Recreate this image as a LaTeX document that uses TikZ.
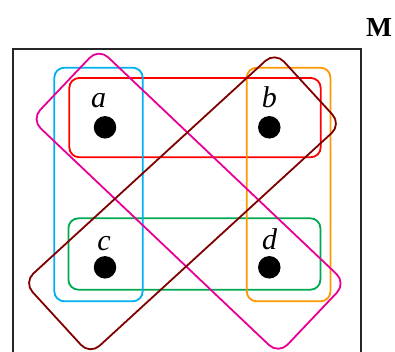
\documentclass[tikz,border=0pt]{standalone}
\usepackage{fontspec}
\setmainfont{Liberation Serif}
\definecolor{skyblue}{RGB}{0,176,240}
\definecolor{setgreen}{RGB}{0,168,80}
\definecolor{setorange}{RGB}{255,152,0}
\definecolor{setpink}{RGB}{232,0,150}
\definecolor{setmaroon}{RGB}{128,0,0}

\begin{document}
\begin{tikzpicture}[x=1pt,y=-1pt,
  elem/.style={circle,fill=black,inner sep=0pt,minimum size=22.5pt},
  lbl/.style={anchor=base,inner sep=0pt,font=\fontsize{30}{36}\selectfont\itshape},
  setbox/.style={draw=#1,line width=1.8pt,rounded corners=10pt,inner sep=0pt},
  diagbox/.style={setbox=#1,rounded corners=13pt,minimum width=341pt,minimum height=98pt}]
  \useasboundingbox (0,0) rectangle (395,351);

  % universe
  \draw[line width=2.2pt,black!85] (13.3,400) |- (360.7,49.3) -- (360.7,400);
  \node[anchor=base,inner sep=0pt,font=\fontsize{27.5}{33}\selectfont\bfseries] (M) at (379,36) {M};

  % elements
  \node[elem] (a) at (105,127.3) {};
  \node[elem] (b) at (269.3,127.3) {};
  \node[elem] (c) at (105,267.3) {};
  \node[elem] (d) at (269.3,267.3) {};
  \node[lbl] (la) at (98.7,107.3) {a};
  \node[lbl] (lb) at (269.3,107.3) {b};
  \node[lbl] (lc) at (104,250) {c};
  \node[lbl] (ld) at (269.5,249.5) {d};

  % hyperedges
  \node[setbox=red,minimum width=251.4pt,minimum height=79.3pt] (ab) at (195,117.6) {};
  \node[setbox=setgreen,minimum width=252pt,minimum height=71.4pt] (cd) at (194.4,254) {};
  \node[setbox=skyblue,minimum width=88.4pt,minimum height=233.6pt] (ac) at (98.5,184.5) {};
  \node[setbox=setorange,minimum width=83.8pt,minimum height=233.6pt] (bd) at (288.6,184.5) {};
  \node[diagbox=setpink,rotate=-43.5] (ad) at (188.6,201.2) {};
  \node[diagbox=setmaroon,rotate=42.5] (bc) at (182.5,203.3) {};
\end{tikzpicture}
\end{document}
